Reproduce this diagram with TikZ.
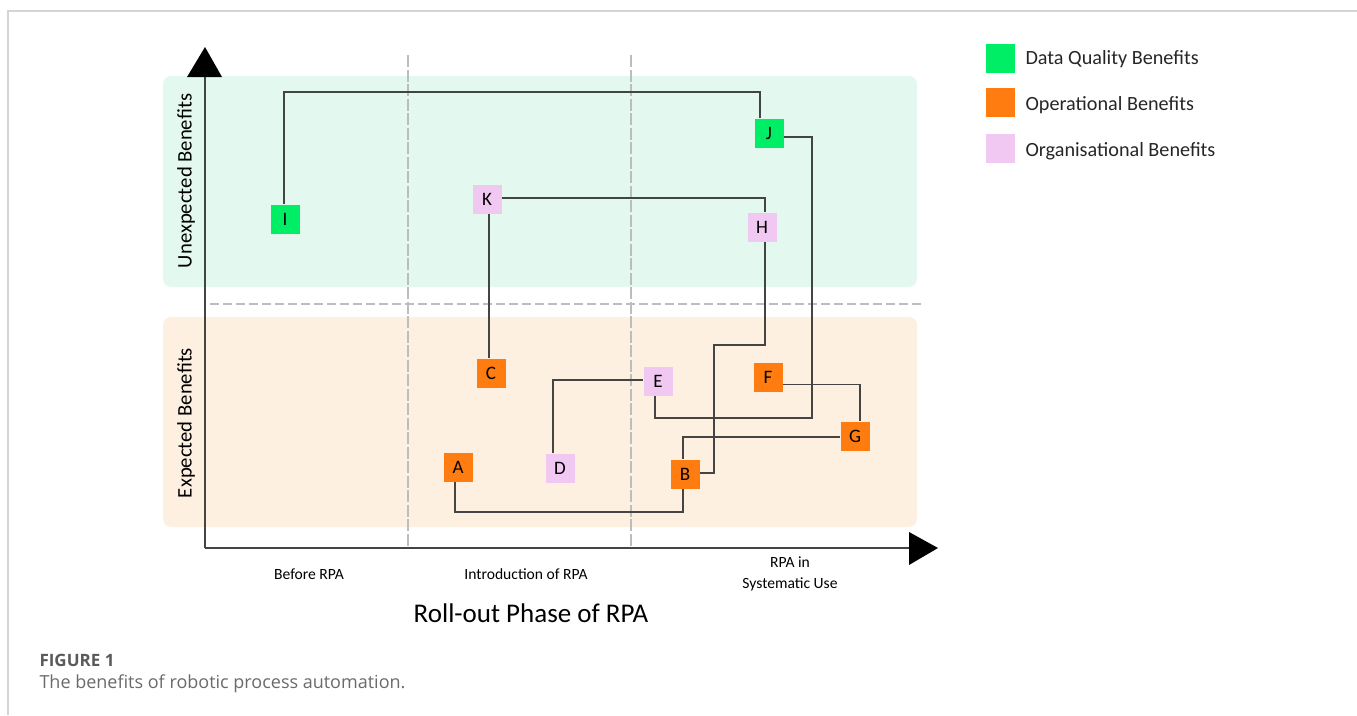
\documentclass[tikz,border=0pt]{standalone}
\usepackage{fontspec}
\setmainfont{Carlito}
\newfontfamily\capfont{Open Sans}
\definecolor{dqgreen}{HTML}{00EE66}
\definecolor{oporange}{HTML}{FF7C10}
\definecolor{orgpink}{HTML}{F0C8F2}
\definecolor{bandgreen}{HTML}{E3F8EF}
\definecolor{bandorange}{HTML}{FDF0E1}
\definecolor{framegray}{HTML}{D4D4D4}
\definecolor{dashgray}{HTML}{BDBDBD}
\definecolor{linegray}{HTML}{444444}
\definecolor{capgray}{HTML}{6A6A6A}
\tikzset{
  benefit/.style={minimum size=29pt, inner sep=0pt, font=\fontsize{19}{21}\selectfont},
  dq/.style={benefit, fill=dqgreen},
  op/.style={benefit, fill=oporange},
  org/.style={benefit, fill=orgpink},
  link/.style={draw=linegray, line width=1.7pt},
  axisline/.style={draw=linegray, line width=1.6pt},
  vdash/.style={draw=dashgray, line width=1.4pt, dash pattern=on 12pt off 2.5pt},
  hdash/.style={draw=dashgray, line width=2.6pt, dash pattern=on 9pt off 4pt},
  band/.style={rounded corners=8pt},
  sidelabel/.style={rotate=90, font=\fontsize{20.7}{23}\selectfont},
  phase/.style={font=\fontsize{15.6}{21}\selectfont, align=center},
  legtext/.style={anchor=west, font=\fontsize{20.2}{23}\selectfont, text=black!85},
}
\begin{document}
\begin{tikzpicture}[x=1pt, y=-1pt]
\useasboundingbox (0,0) rectangle (1357,715);
% frame
\draw[framegray, line width=1.5pt] (8,715) -- (8,11) -- (1357,11);
% bands
\fill[bandgreen, band] (163,76) rectangle (917,287);
\fill[bandorange, band] (163,317) rectangle (917,527);
% dashed separators
\draw[vdash] (408,55) -- (408,548);
\draw[vdash] (631,55) -- (631,548);
\draw[hdash] (210,304) -- (925,304);
% axes
\draw[axisline] (205,548) -- (205,76);
\fill[black] (187,77) -- (205,47) -- (222,77) -- cycle;
\draw[axisline] (205,548) -- (909,548);
\fill[black] (909,532) -- (938,548) -- (909,565) -- cycle;
% axis labels
\node[sidelabel] (lunexp) at (186,181) {Unexpected Benefits};
\node[sidelabel] (lexp) at (186,423) {Expected Benefits};
\node[phase] (pbefore) at (309,574) {Before RPA};
\node[phase] (pintro) at (526,574) {Introduction of RPA};
\node[phase] (psys) at (790,574) {RPA in\\Systematic Use};
\node[font=\fontsize{27}{30}\selectfont] (rollout) at (531,613) {Roll-out Phase of RPA};
% benefit nodes
\node[dq] (I) at (285,219) {I};
\node[dq] (J) at (769,133) {J};
\node[org] (K) at (487,199) {K};
\node[org] (H) at (762,227) {H};
\node[op] (C) at (491,373) {C};
\node[org] (E) at (658,381) {E};
\node[op] (F) at (768,377) {F};
\node[op] (G) at (855,436) {G};
\node[op] (A) at (458,467) {A};
\node[org] (D) at (560,468) {D};
\node[op] (B) at (685,474) {B};
% connectors
\draw[link] ([xshift=-1pt]I.north) -- ++(0,-112.5) -| ([xshift=-9pt]J.north);
\draw[link] ([yshift=-4pt]J.east) -| (812,418) -| ([xshift=-3pt]E.south);
\draw[link] ([xshift=-7pt]D.north) |- ([yshift=1pt]E.west);
\draw[link] ([xshift=-3pt]A.south) |- (683,512) -- ([xshift=-2pt]B.south);
\draw[link] ([yshift=-7.5pt]F.east) -| ([xshift=5pt]G.north);
\draw[link] ([yshift=-1pt]G.west) -| ([xshift=-2pt]B.north);
\draw[link] ([yshift=1pt]B.east) -| (714,345) -| ([xshift=3pt]H.south);
\draw[link] ([xshift=-2pt]C.north) -- ([xshift=2pt]K.south);
\draw[link] ([yshift=1pt]K.east) -| ([xshift=3pt]H.north);
% legend
\node[dq] (lg1) at (1000,58) {};
\node[op] (lg2) at (1000,102) {};
\node[org] (lg3) at (1000,148) {};
\node[legtext] (lt1) at (1022,59.5) {Data Quality Benefits};
\node[legtext] (lt2) at (1022,105.5) {Operational Benefits};
\node[legtext] (lt3) at (1022,151.5) {Organisational Benefits};
% caption
\node[anchor=west, text=capgray!85!black, font=\capfont\bfseries\fontsize{17}{20}\selectfont] (fig) at (36,660) {FIGURE 1};
\node[anchor=west, text=capgray, font=\capfont\fontsize{18}{21}\selectfont] (cap) at (36,684) {The benefits of robotic process automation.};
\end{tikzpicture}
\end{document}
